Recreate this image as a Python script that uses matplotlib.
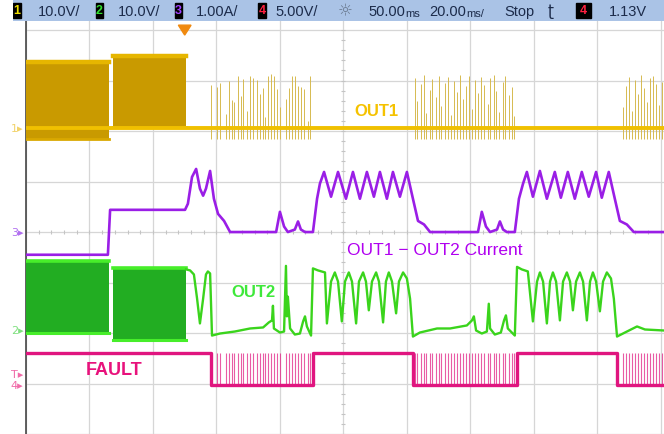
import numpy as np
import matplotlib.pyplot as plt
from matplotlib.patches import Rectangle, Polygon
import matplotlib.transforms as mtransforms

# scope settings (time in ms, 20 ms/div)
ch_scale = {1: 10.0, 2: 10.0, 3: 1.0, 4: 5.0}      # V/div, A/div
ch_ground = {1: 2.06, 2: -1.95, 3: 0.0, 4: -3.03}  # ground marker, div
trig_time = 50.0
trig_level = 1.13

# bursts before fault (ms)
burst_t = [(0.0, 26.1), (27.4, 50.4)]
out1_burst_hi = [13.0, 14.2]
out1_burst_lo = [-2.2, 0.2]
out2_burst_hi = [13.8, 12.3]
out2_burst_lo = [-0.4, -1.8]

# retry pulses seen on OUT1 / FAULT (ms) and OUT1 spike heights (V)
retry_t1 = [58.2, 60.1, 61.1, 63.0, 63.9, 64.8, 65.5, 66.7, 67.6, 68.4, 69.5,
            70.6, 71.5, 72.7, 73.7, 74.6, 75.3, 76.1, 77.1, 78.1, 79.1, 80.0,
            81.9, 82.8, 83.7, 84.7, 85.7, 86.6, 87.6, 88.7, 89.5]
spike_v1 = [8.5, 8.1, 8.9, 2.8, 9.3, 5.5, 5.1, 10.3, 6.3, 9.7, 3.4, 10.3, 9.9,
            9.5, 6.7, 7.9, 2.2, 10.3, 10.7, 10.3, 7.7, 4.1, 5.7, 7.9, 10.3,
            10.3, 8.3, 8.1, 7.7, 1.4, 10.3]
retry_t2 = [122.4, 123.3, 124.4, 125.3, 126.1, 127.2, 128.0, 129.1, 130.0,
            130.9, 131.9, 132.8, 133.9, 134.7, 135.8, 136.6, 137.7, 138.6,
            139.5, 140.6, 141.4, 142.5, 143.4, 144.3, 145.4, 146.2, 147.3,
            148.2, 149.1, 150.2, 151.0, 152.1, 153.0, 153.9]
spike_v2 = [9.9, 5.3, 8.7, 10.5, 3.0, 7.5, 9.7, 6.1, 10.3, 4.3, 8.9, 10.1, 2.6,
            9.3, 7.1, 10.5, 5.7, 8.3, 10.3, 3.8, 9.5, 6.9, 10.1, 8.5, 4.7, 9.9,
            10.5, 7.3, 3.2, 9.1, 10.3, 6.5, 8.1, 2.4]
retry_t3 = [188.1, 189.0, 190.0, 191.0, 191.9, 192.9, 193.8, 194.8, 195.7,
            196.7, 197.6, 198.6, 199.5, 200.5]
spike_v3 = [4.1, 8.3, 10.1, 3.4, 9.5, 6.7, 10.5, 7.9, 5.1, 9.9, 10.3, 8.7, 4.5,
            9.1]
spike_low = -2.2

# OUT1 - OUT2 current (A)
cur_t = [0, 25.8, 26.5, 50.1, 51.0, 52.3, 53.6, 54.8, 55.8, 56.7, 58.0, 59.2,
         60.5, 62.4, 64.3, 78.8, 80.0, 81.3, 82.5, 84.7, 85.7, 86.6, 87.9,
         90.4, 91.7, 92.6, 93.9, 96.1, 98.3, 100.8, 103.0, 105.2, 107.4, 109.6,
         111.5, 113.7, 115.6, 117.8, 120.0, 121.9, 123.5, 125.4, 127.3, 142.4,
         143.6, 144.9, 146.2, 148.4, 149.3, 150.3, 151.5, 154.0, 155.3, 156.6,
         157.8, 159.7, 161.9, 164.1, 166.6, 168.5, 170.7, 172.9, 175.1, 177.3,
         179.6, 181.4, 183.6, 185.5, 187.1, 189.3, 191.5, 201.0]
cur_a = [-0.45, -0.45, 0.44, 0.44, 0.56, 1.09, 1.25, 0.86, 0.72, 0.86, 1.21,
         0.66, 0.36, 0.22, 0, 0, 0.40, 0.11, 0, 0.05, 0.21, 0.05, 0,
         0, 0.66, 0.96, 1.19, 0.70, 1.19, 0.66, 1.19, 0.66, 1.19, 0.70,
         1.19, 0.66, 1.19, 0.70, 1.19, 0.66, 0.22, 0.15, 0, 0,
         0.40, 0.11, 0, 0.05, 0.21, 0.05, 0, 0, 0.66, 0.96,
         1.19, 0.70, 1.21, 0.66, 1.19, 0.68, 1.19, 0.66, 1.19, 0.70,
         1.19, 0.68, 1.19, 0.66, 0.22, 0.15, 0, 0]

# OUT2 after the bursts (V)
out2_t = [50.4, 51.7, 52.9, 53.9, 54.8, 55.8, 56.7, 57.3, 58.0, 58.6, 61.1,
          65.8, 70.6, 74.7, 76.5, 77.5, 77.8, 78.1, 80.0, 81.3, 81.9, 82.2,
          82.5, 83.2, 84.7, 86.3, 87.3, 87.9, 88.5, 89.8, 90.4, 92.0, 94.2,
          94.8, 96.1, 97.3, 98.3, 99.5, 100.5, 101.7, 102.7, 104.0, 104.9,
          106.2, 107.1, 108.0, 109.0, 110.3, 111.2, 112.5, 113.4, 114.3, 115.3,
          116.6, 117.5, 118.8, 120.0, 121.0, 121.9, 124.1, 129.5, 133.6, 138.9,
          140.5, 141.1, 141.8, 143.6, 145.2, 145.8, 146.2, 147.7, 149.6, 150.6,
          151.2, 151.8, 154.0, 154.7, 156.2, 158.1, 159.7, 161.0, 161.9, 162.9,
          164.1, 165.1, 166.0, 167.0, 168.2, 169.2, 170.4, 171.4, 172.3, 173.3,
          174.5, 175.5, 176.7, 177.7, 178.6, 179.6, 180.8, 181.8, 183.0, 184.3,
          185.2, 186.2, 188.7, 192.5, 195.0, 201.0]
out2_v = [12.1, 11.9, 11.1, 6.3, 1.4, 6.3, 11.1, 11.7, 11.3, -1.0, -0.6,
          -0.2, 0.4, 0.6, 1.6, 2.0, 4.9, 0.4, -0.4, -0.2, 12.8, 2.8,
          6.7, 0.4, -0.8, -0.6, 1.8, 2.8, 0.8, -1.0, 12.3, 11.9, 11.5,
          1.4, 9.7, 11.5, 9.7, 1.8, 9.7, 11.5, 9.7, 1.4, 9.7,
          11.5, 9.7, 4.0, 9.7, 11.5, 9.7, 1.6, 9.7, 11.5, 9.7,
          3.4, 9.7, 11.5, 10.3, 6.3, -1.2, -0.4, 0.4, 0.4, 1.0,
          2.0, 2.8, 0.0, -0.6, -0.2, 5.3, 0.4, -0.8, -0.4, 2.0,
          3.0, 0.4, -1.0, 12.6, 12.1, 11.7, 1.8, 9.7, 11.5, 9.7,
          1.4, 9.7, 11.5, 9.7, 2.0, 9.7, 11.5, 9.7, 4.0, 9.7,
          11.5, 9.7, 2.0, 9.7, 11.5, 9.7, 3.8, 9.7, 11.5, 10.3,
          6.3, -1.2, -0.4, 0.8, 0.2, 0.0]

# FAULT level (V), steps-post
fault_t = [0, 58.3, 90.4, 121.9, 154.7, 186.2, 201.0]
fault_v = [3.2, 0, 3.2, 0, 3.2, 0, 0]
fault_high = 3.2


def scr(v, ch):
    return np.asarray(v, float) / ch_scale[ch] + ch_ground[ch]


c_out1 = '#f0c000'
c_out1_fill = '#c99a00'
c_out1_spike = '#d6ba50'
c_cur = '#9a1ee6'
c_out2 = '#3ad41c'
c_out2_fill = '#22ad22'
c_fault = '#e0157f'

fig = plt.figure(figsize=(6.64, 4.35), dpi=100)
fig.patch.set_facecolor('white')

ax = fig.add_axes([26 / 664, 0, 638 / 664, 413 / 435])
ax.set_xlim(0, 201.0)
ax.set_ylim(-3.98, 4.18)
ax.set_xticks(np.arange(0, 201, 20))
ax.set_yticks(np.arange(-4, 5, 1))
ax.grid(True, color='#d6d6d6', lw=0.9)
ax.tick_params(length=0, labelbottom=False, labelleft=False)
for s in ['top', 'right', 'bottom']:
    ax.spines[s].set_visible(False)
ax.spines['left'].set_color('#454545')
ax.spines['left'].set_linewidth(1.2)

# small tick marks on the centre lines
mt = np.arange(0, 201, 4)
ax.plot(mt, np.zeros_like(mt), '|', ms=3, color='#c4c4c4', mew=0.8)
my = np.arange(-4, 4.01, 0.2)
ax.plot(np.full_like(my, 100.0), my, '_', ms=3, color='#c4c4c4', mew=0.8)

# FAULT
ax.plot(fault_t, scr(fault_v, 4), drawstyle='steps-post', color=c_fault,
        lw=2.4, zorder=3)
for rt in [retry_t1, retry_t2, retry_t3]:
    ax.vlines(rt, scr(0, 4), scr(fault_high, 4), color=c_fault, lw=0.8,
              alpha=0.7, zorder=3)

# OUT2
for (t0, t1), hi, lo in zip(burst_t, out2_burst_hi, out2_burst_lo):
    ax.fill_between([t0, t1], scr(lo, 2), scr(hi, 2), color=c_out2_fill,
                    lw=0, zorder=4)
    ax.plot([t0, t1], scr([hi, hi], 2), color='#47ee2a', lw=2.6, zorder=4)
    ax.plot([t0, t1], scr([lo, lo], 2), color='#47ee2a', lw=2.2, zorder=4)
ax.plot(out2_t, scr(out2_v, 2), color=c_out2, lw=1.7, zorder=4)

# current
ax.plot(cur_t, scr(cur_a, 3), color=c_cur, lw=1.9, zorder=5)

# OUT1
for (t0, t1), hi, lo in zip(burst_t, out1_burst_hi, out1_burst_lo):
    ax.fill_between([t0, t1], scr(lo, 1), scr(hi, 1), color=c_out1_fill,
                    lw=0, zorder=6)
    ax.plot([t0, t1], scr([hi, hi], 1), color='#e6b600', lw=3.2, zorder=6)
    ax.plot([t0, t1], scr([lo, lo], 1), color='#d9a800', lw=2.0, zorder=6)
for rt, sv in [(retry_t1, spike_v1), (retry_t2, spike_v2), (retry_t3, spike_v3)]:
    ax.vlines(rt, scr(spike_low, 1), scr(sv, 1), color=c_out1_spike, lw=0.7,
              zorder=6)
ax.plot([0, 201.0], scr([0, 0], 1), color=c_out1, lw=2.8, zorder=7)

# trace labels
ax.text(110.3, 2.40, 'OUT1', color='#f5c200', fontsize=12, fontweight='bold',
        family='Liberation Sans', ha='center', va='center', zorder=8)
ax.text(71.8, -1.18, 'OUT2', color='#3ee83a', fontsize=12, fontweight='bold',
        family='Liberation Sans', ha='center', va='center', zorder=8)
ax.text(27.7, -2.72, 'FAULT', color='#e8127c', fontsize=13, fontweight='bold',
        family='Liberation Sans', ha='center', va='center', zorder=8)
ax.text(128.8, -0.35, 'OUT1 \u2212 OUT2 Current', color='#b000f0',
        fontsize=12.5, family='Liberation Sans', ha='center', va='center',
        zorder=8)

# trigger position marker at top
trans = mtransforms.blended_transform_factory(ax.transData, ax.transAxes)
top = (4.0 + 3.98) / (4.18 + 3.98)
ax.add_patch(Polygon([[trig_time - 2.0, top + 0.012], [trig_time + 2.0, top + 0.012],
                      [trig_time, top - 0.012]], closed=True, color='#f08a10',
                     transform=trans, clip_on=False, zorder=9))

# ground markers on the left
ltrans = mtransforms.blended_transform_factory(ax.transAxes, ax.transData)
markers = [('1', ch_ground[1], '#f2d36a'), ('3', ch_ground[3], '#b06ef0'),
           ('2', ch_ground[2], '#7fe07f'), ('4', ch_ground[4], '#f06aa8'),
           ('T', scr(trig_level, 4), '#f06aa8')]
for lab, yv, col in markers:
    ax.text(-0.004, yv, lab + '\u25b8', transform=ltrans, color=col,
            fontsize=8, ha='right', va='center', clip_on=False)

# status bar
bar = fig.add_axes([13 / 664, 1 - 22 / 435, 651 / 664, 22 / 435])
bar.set_xlim(13, 664)
bar.set_ylim(22, 0)
bar.set_facecolor('#aac3e6')
bar.set_xticks([])
bar.set_yticks([])
for s in bar.spines.values():
    s.set_visible(False)

font_bar = 'Liberation Sans'
txt_col = '#1c2b4a'
boxes = [(13, 21, '1', '#f0e000'), (96, 103, '2', '#30e030'),
         (175, 182, '3', '#a040ff'), (258, 266, '4', '#ff2040'),
         (576, 591, '4', '#ff2040')]
for x0, x1, lab, col in boxes:
    bar.add_patch(Rectangle((x0, 4), x1 - x0, 15, color='black'))
    bar.text((x0 + x1) / 2, 11.5, lab, color=col, fontsize=9,
             fontweight='bold', ha='center', va='center', family=font_bar)
items = [(38, '10.0V/'), (118, '10.0V/'), (196, '1.00A/'), (275, '5.00V/'),
         (504, 'Stop'), (609, '1.13V')]
for x0, s in items:
    bar.text(x0, 16, s, color=txt_col, fontsize=10.5, ha='left',
             va='baseline', family=font_bar)
# time readouts with the compact "ms" unit
for x0, num, tail in [(368, '50.00', ''), (429, '20.00', '/')]:
    t = bar.text(x0, 16, num, color=txt_col, fontsize=10.5, ha='left',
                 va='baseline', family=font_bar)
    bar.annotate('ms' + tail, xycoords=t, xy=(1, 0), va='bottom', ha='left',
                 color=txt_col, fontsize=8, family=font_bar)
bar.text(345, 11.5, '\u263c', color='#6a7a90', fontsize=12, ha='center',
         va='center', family='DejaVu Sans')
bar.text(551, 11.5, '\u0288', color=txt_col, fontsize=11, ha='center',
         va='center', family='DejaVu Sans')

fig.savefig('out.png', dpi=100)
